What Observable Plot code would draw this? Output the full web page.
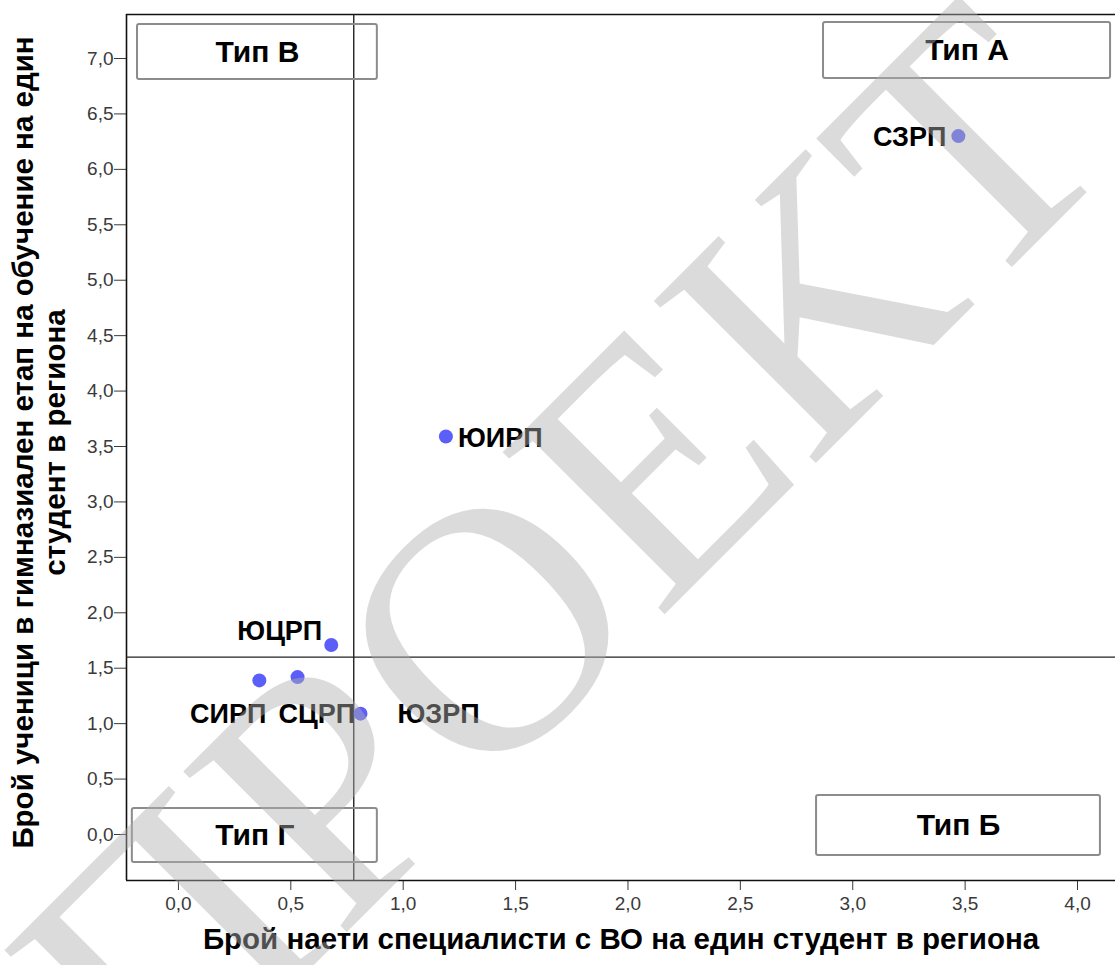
<!DOCTYPE html>
<html>
<head>
<meta charset="utf-8">
<script src="https://cdn.jsdelivr.net/npm/d3@7"></script>
<script src="https://cdn.jsdelivr.net/npm/@observablehq/plot@0.6"></script>
<style>
  html, body { margin: 0; padding: 0; background: #fff; }
  #chart svg { display: block; }
</style>
</head>
<body>
<div id="chart"></div>
<script>
// ---- data ----
const regions = ["СЗРП", "ЮИРП", "ЮЦРП", "СИРП", "СЦРП", "ЮЗРП"];
const specialistsPerStudent = [3.47, 1.19, 0.68, 0.36, 0.53, 0.81];
const pupilsPerStudent = [6.30, 3.59, 1.71, 1.39, 1.42, 1.09];

const xTicks = [0, 0.5, 1, 1.5, 2, 2.5, 3, 3.5, 4];
const yTicks = [0, 0.5, 1, 1.5, 2, 2.5, 3, 3.5, 4, 4.5, 5, 5.5, 6, 6.5, 7];
const xReference = 0.78;
const yReference = 1.60;

const quadrantNames = ["Тип В", "Тип А", "Тип Б", "Тип Г"];
const quadrantX1 = [-0.182, 2.870, 2.839, -0.205];
const quadrantX2 = [0.885, 4.147, 4.102, 0.885];
const quadrantY1 = [6.81, 6.82, -0.189, -0.253];
const quadrantY2 = [7.307, 7.325, 0.352, 0.235];

const xTitle = "Брой наети специалисти с ВО на един студент в региона";
const yTitle = "Брой ученици в гимназиален етап на обучение на един\nстудент в региона";
const watermark = "ПРОЕКТ";

// ---- layout / style ----
const xDomain = [-0.231, 4.169];
const yDomain = [-0.415, 7.397];
const labelLayout = {
  "СЗРП": {anchor: "end", dx: -12, dy: 1},
  "ЮИРП": {anchor: "start", dx: 12, dy: 2},
  "ЮЦРП": {anchor: "end", dx: -9, dy: -14},
  "СИРП": {anchor: "end", dx: 7, dy: 34},
  "СЦРП": {anchor: "start", dx: -19, dy: 37},
  "ЮЗРП": {anchor: "start", dx: 37, dy: 1}
};

const points = regions.map((name, i) => ({name, x: specialistsPerStudent[i], y: pupilsPerStudent[i]}));
const quadrants = quadrantNames.map((name, i) => ({
  name, x1: quadrantX1[i], x2: quadrantX2[i], y1: quadrantY1[i], y2: quadrantY2[i],
  xc: (quadrantX1[i] + quadrantX2[i]) / 2, yc: (quadrantY1[i] + quadrantY2[i]) / 2
}));
const fmt = d => d.toFixed(1).replace(".", ",");
const FONT = "Liberation Sans, Arial, sans-serif";

const labelMarks = points.map(p => {
  const L = labelLayout[p.name];
  return Plot.text([p], {x: "x", y: "y", text: "name", textAnchor: L.anchor, dx: L.dx, dy: L.dy,
    fontSize: 27, fontWeight: "bold", fill: "#000", fontFamily: FONT});
});

const chart = Plot.plot({
  width: 1115,
  height: 965,
  marginLeft: 126,
  marginRight: 0,
  marginTop: 14,
  marginBottom: 85,
  style: {fontFamily: FONT, background: "#fff"},
  x: {domain: xDomain},
  y: {domain: yDomain},
  marks: [
    Plot.axisY({ticks: yTicks, tickFormat: fmt, tickSize: 12, tickPadding: 1, fontSize: 19, color: "#3a3a3a", label: null}),
    Plot.axisX({ticks: xTicks, tickFormat: fmt, tickSize: 10, tickPadding: 6, fontSize: 19, color: "#3a3a3a", label: null}),
    Plot.ruleX([xDomain[0]], {stroke: "#111", strokeWidth: 1.6}),
    Plot.ruleY([yDomain[0]], {stroke: "#111", strokeWidth: 1.6}),
    Plot.ruleY([yDomain[1]], {stroke: "#111", strokeWidth: 1.6}),
    Plot.ruleX([xReference], {stroke: "#222", strokeWidth: 1.4}),
    Plot.ruleY([yReference], {stroke: "#222", strokeWidth: 1.4}),
    Plot.rect(quadrants, {x1: "x1", x2: "x2", y1: "y1", y2: "y2", fill: "none", stroke: "#8c8c8c", strokeWidth: 2, rx: 2}),
    Plot.text(quadrants, {x: "xc", y: "yc", text: "name", fontSize: 30, fontWeight: "bold", fill: "#000"}),
    Plot.dot(points, {x: "x", y: "y", r: 7, fill: "#5c5ff7", stroke: "none"}),
    ...labelMarks,
    Plot.text([xTitle], {frameAnchor: "bottom", dy: 68, fontSize: 29.5, fontWeight: "bold", fill: "#000"}),
    Plot.text([yTitle], {frameAnchor: "left", textAnchor: "middle", dx: -88, dy: -5, rotate: -90, fontSize: 29.5, fontWeight: "bold", fill: "#000", lineHeight: 1.1}),
    Plot.text([watermark], {frameAnchor: "middle", dx: -58, dy: 110, rotate: -45, fontSize: 350,
      fontFamily: "Liberation Serif, DejaVu Serif, serif", fill: "#b0b0b0", fillOpacity: 0.45})
  ]
});
document.getElementById("chart").appendChild(chart);
</script>
</body>
</html>
